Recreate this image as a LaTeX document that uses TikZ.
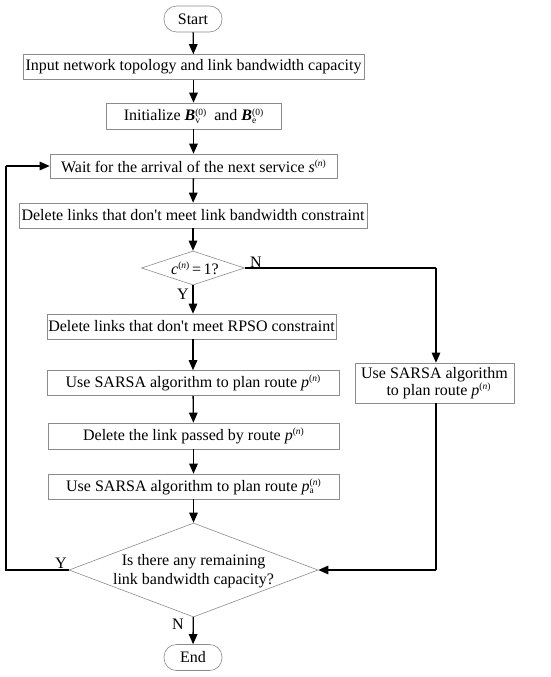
\documentclass[tikz,border=0pt]{standalone}
\usepackage{fontspec}
\setmainfont{Liberation Serif}
\usetikzlibrary{shapes.geometric,arrows.meta}
\newcommand\mysup[1]{\raisebox{0.8ex}{\fontsize{9.5}{10}\selectfont(#1)}}
\newcommand\mysupsub[2]{\rlap{\raisebox{-0.35ex}{\fontsize{9.5}{10}\selectfont #2}}\raisebox{0.8ex}{\fontsize{9.5}{10}\selectfont(#1)}}
\newcommand\apo{\textquotesingle}
\begin{document}
\begin{tikzpicture}[x=1pt,y=-1pt,
  font=\fontsize{16}{18}\selectfont,
  box/.style={draw=black!45, line width=0.6pt, rectangle, inner sep=1pt},
  term/.style={draw=black!45, line width=0.6pt, rectangle, rounded corners=12.5pt, minimum width=58pt, minimum height=26pt, inner sep=1pt},
  dia/.style={draw=black!45, line width=0.6pt, diamond, inner sep=0pt},
  arr/.style={draw=black, line width=1.3pt, -{Triangle[length=10pt,width=8.5pt]}},
  lin/.style={draw=black, line width=1.3pt},
  lbl/.style={inner sep=0pt}]
\useasboundingbox (0,0) rectangle (550,677);
\node[term] (start) at (193,19) {Start};
\node[box, minimum width=341pt, minimum height=25pt] (b1) at (193.5,67) {Input network topology and link bandwidth capacity};
\node[box, minimum width=175pt, minimum height=26pt] (b2) at (193.5,116) {Initialize \textbf{\textit{B}}\mysupsub{0}{v}\ \ and \textbf{\textit{B}}\mysupsub{0}{e}};
\node[box, minimum width=287pt, minimum height=24pt] (b3) at (193.5,166) {Wait for the arrival of the next service \textit{s}\mysup{\textit{n}}};
\node[box, minimum width=348pt, minimum height=25pt] (b4) at (193,215.5) {Delete links that don\apo t meet link bandwidth constraint};
\node[dia, minimum width=103pt, minimum height=34pt] (d1) at (193,268) {};
\node[lbl] (d1t) at (195,268) {\textit{c}\mysup{\textit{n}}\,=\,1?};
\node[box, minimum width=289pt, minimum height=25pt] (b5) at (191.5,326.5) {Delete links that don\apo t meet RPSO constraint};
\node[box, minimum width=292pt, minimum height=25pt] (b6) at (193,383) {Use SARSA algorithm to plan route \textit{p}\mysup{\textit{n}}};
\node[box, minimum width=159pt, minimum height=40pt, align=center] (r1) at (434.5,383) {Use SARSA algorithm\\[-1pt]\ \ to plan route \textit{p}\mysup{\textit{n}}};
\node[box, minimum width=291pt, minimum height=26pt] (b7) at (193.5,436) {Delete the link passed by route \textit{p}\mysup{\textit{n}}};
\node[box, minimum width=291pt, minimum height=25pt] (b8) at (193.5,486.5) {Use SARSA algorithm to plan route \textit{p}\mysupsub{\textit{n}}{a}};
\node[dia, minimum width=249pt, minimum height=94pt] (d2) at (193.5,570) {};
\node[lbl, align=center] (d2t) at (193.5,571) {Is there any remaining\\[1pt]link bandwidth capacity?};
\node[term] (end) at (193,657.5) {End};
% labels
\node[lbl] (ln1) at (256,262) {N};
\node[lbl] (ly1) at (183,294) {Y};
\node[lbl] (ly2) at (61,563) {Y};
\node[lbl] (ln2) at (178,624) {N};
\coordinate (c1) at (436,268);
\coordinate (c2) at (436,570);
\coordinate (c3) at (6,570);
\coordinate (c4) at (6,166);
% arrows
\draw[arr] (start) -- (b1);
\draw[arr] (b1) -- (b2);
\draw[arr] (b2) -- (b3);
\draw[arr] (b3) -- (b4);
\draw[arr] (b4) -- (d1);
\draw[arr] (d1) -- (d1 |- b5.north);
\draw[arr] (b5.south -| b6) -- (b6);
\draw[arr] (b6) -- (b7);
\draw[arr] (b7) -- (b8);
\draw[arr] (b8) -- (d2);
\draw[arr] (d2) -- (end);
\draw[lin] (d1.east) -- (c1);
\draw[arr] (c1) -- (r1.north -| c1);
\draw[lin] (r1.south -| c2) -- (c2);
\draw[arr] (c2) -- (d2.east);
\draw[lin] (d2.west) -- (c3) -- (c4);
\draw[arr] (c4) -- (b3.west);
\end{tikzpicture}
\end{document}
